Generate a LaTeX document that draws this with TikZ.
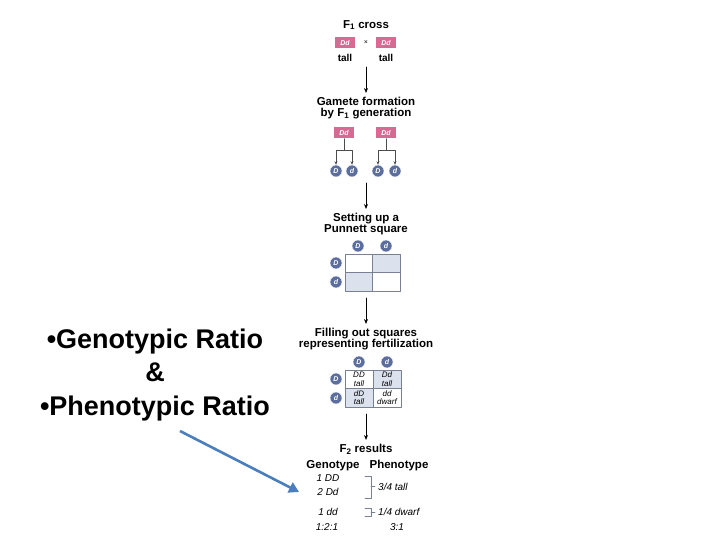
\documentclass[tikz,border=0pt]{standalone}
\usepackage{fontspec}
\setmainfont{Liberation Sans}
\usetikzlibrary{arrows.meta}
\definecolor{rosa}{RGB}{214,106,146}
\definecolor{alelogris}{RGB}{92,110,158}
\definecolor{celdaazul}{RGB}{220,225,238}
\definecolor{linea}{RGB}{120,128,148}
\definecolor{azul}{RGB}{74,126,188}
\tikzset{
  titulo/.style={font=\fontsize{11.5}{11}\selectfont\bfseries, align=center, inner sep=0pt},
  etiqueta/.style={font=\fontsize{10}{10}\selectfont\bfseries, inner sep=0pt},
  par/.style={fill=rosa, text=white, inner sep=0pt, minimum width=20pt, minimum height=11pt,
    font=\fontsize{7}{7}\selectfont\bfseries\itshape},
  alelo/.style={circle, fill=alelogris, draw=white, line width=0.4pt, inner sep=0pt,
    minimum size=12pt, text=white, font=\fontsize{7}{7}\selectfont\bfseries\itshape},
  celda/.style={draw=linea, line width=0.5pt, inner sep=0pt, outer sep=0pt, align=center,
    minimum width=27.5pt, minimum height=18.5pt, font=\fontsize{8}{8.5}\selectfont\itshape},
  resultado/.style={font=\fontsize{10}{10}\selectfont\itshape, inner sep=0pt},
  flecha/.style={-{Stealth[length=5pt,width=4pt]}, line width=0.9pt},
  flechita/.style={-{Stealth[length=3.5pt,width=3pt]}, line width=0.6pt, draw=black!70},
}
\begin{document}
\begin{tikzpicture}[x=1pt, y=-1pt, line cap=round, line join=round]
  \useasboundingbox (0,0) rectangle (720,540);
  % el texto de la izquierda y su flecha azul
  \node[font=\fontsize{27}{33.5}\selectfont\bfseries, align=center] (ratios) at (155,375)
    {•Genotypic Ratio\\\&\\•Phenotypic Ratio};
  \coordinate (azulA) at (180,431);
  \coordinate (azulB) at (299,492);
  \draw[azul, line width=2.6pt, line cap=butt, -{Triangle[length=10pt,width=11pt]}] (azulA) -- (azulB);
  % el cruce F1
  \node[titulo] (cruce) at (366,25) {F\textsubscript{1} cross};
  \node[par] (padre1) at (345,43) {Dd};
  \node[font=\fontsize{7}{7}\selectfont] (por) at (366,43) {×};
  \node[par] (padre2) at (386,43) {Dd};
  \node[etiqueta] (alto1) at (345,58) {tall};
  \node[etiqueta] (alto2) at (386,58) {tall};
  \coordinate (f1a) at (366,67); \coordinate (f1b) at (366,93);
  \draw[flecha] (f1a) -- (f1b);
  % la formacion de gametos
  \node[titulo] (gametos) at (366,108) {Gamete formation\\by F\textsubscript{1} generation};
  \node[par] (gam1) at (344,133) {Dd};
  \node[par] (gam2) at (386,133) {Dd};
  \foreach \x/\l [count=\i] in {336/D, 352/d, 378/D, 395/d} {
    \node[alelo] (a\i) at (\x,171) {\l};
  }
  \draw[draw=black!70, line width=0.6pt] (gam1.south) -- ++(0,12) coordinate (rama1);
  \draw[draw=black!70, line width=0.6pt] (gam2.south) -- ++(0,12) coordinate (rama2);
  \draw[flechita] (rama1) -| (a1.north); \draw[flechita] (rama1) -| (a2.north);
  \draw[flechita] (rama2) -| (a3.north); \draw[flechita] (rama2) -| (a4.north);
  \coordinate (f2a) at (366,183); \coordinate (f2b) at (366,209);
  \draw[flecha] (f2a) -- (f2b);
  % el cuadro de Punnett vacio
  \node[titulo] (montar) at (366,224) {Setting up a\\Punnett square};
  \node[celda] (v11) at (358.75,263.25) {};
  \node[celda, fill=celdaazul] (v12) at (386.25,263.25) {};
  \node[celda, fill=celdaazul] (v21) at (358.75,281.75) {};
  \node[celda] (v22) at (386.25,281.75) {};
  \node[alelo] (vD) at (358,246) {D}; \node[alelo] (vd) at (386,246) {d};
  \node[alelo] (hD) at (336,263) {D}; \node[alelo] (hd) at (336,282) {d};
  \coordinate (f3a) at (366,298); \coordinate (f3b) at (366,324);
  \draw[flecha] (f3a) -- (f3b);
  % el cuadro lleno
  \node[titulo] (llenar) at (366,339) {Filling out squares\\representing fertilization};
  \node[celda] (c11) at (359,379.25) {DD\\tall};
  \node[celda, fill=celdaazul] (c12) at (387,379.25) {Dd\\tall};
  \node[celda, fill=celdaazul] (c21) at (359,397.75) {dD\\tall};
  \node[celda] (c22) at (387,397.75) {dd\\dwarf};
  \node[alelo] (sD) at (359,362) {D}; \node[alelo] (sd) at (387,362) {d};
  \node[alelo] (iD) at (336,379) {D}; \node[alelo] (id) at (336,398) {d};
  \coordinate (f4a) at (366,414); \coordinate (f4b) at (366,440);
  \draw[flecha] (f4a) -- (f4b);
  % los resultados F2
  \node[titulo] (f2) at (366,449.5) {F\textsubscript{2} results};
  \node[titulo] (genotipo) at (333,465.5) {Genotype};
  \node[titulo] (fenotipo) at (399,465.5) {Phenotype};
  \node[resultado] (g1) at (328,478) {1 DD};
  \node[resultado] (g2) at (328,492) {2 Dd};
  \node[resultado] (g3) at (328,512) {1 dd};
  \node[resultado] (g4) at (327,527) {1:2:1};
  \node[resultado, anchor=west] (p1) at (378,486.5) {3/4 tall};
  \node[resultado, anchor=west] (p2) at (378,512) {1/4 dwarf};
  \node[resultado] (p3) at (397,527) {3:1};
  \draw[linea, line width=0.6pt] (365,476) -- (371,476) -- (371,498) -- (365,498);
  \draw[linea, line width=0.6pt] (371,486.5) -- (375,486.5);
  \draw[linea, line width=0.6pt] (365,508) -- (371,508) -- (371,516) -- (365,516);
  \draw[linea, line width=0.6pt] (371,512) -- (375,512);
\end{tikzpicture}
\end{document}
